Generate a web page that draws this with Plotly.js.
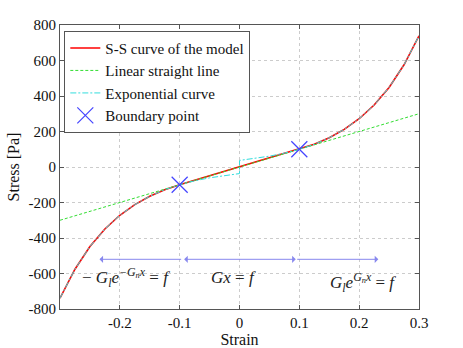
<!DOCTYPE html>
<html>
<head>
<meta charset="utf-8">
<script src="https://cdn.plot.ly/plotly-3.0.1.min.js"></script>
<style>
  html, body { margin: 0; padding: 0; background: #fff; }
  #chart { width: 463px; height: 348px; }
</style>
</head>
<body>
<div id="chart"></div>
<script>
// S-S curve of the model
const modelStrain = [-0.3, -0.275, -0.25, -0.225, -0.2, -0.175, -0.15, -0.125, -0.1,
                     -0.05, 0, 0.05,
                     0.1, 0.125, 0.15, 0.175, 0.2, 0.225, 0.25, 0.275, 0.3];
const modelStress = [-739, -576, -448, -349, -272, -212, -165, -128, -100,
                     -50, 0, 50,
                     100, 128, 165, 212, 272, 349, 448, 576, 739];

// linear straight line
const linearStrain = [-0.3, 0.3];
const linearStress = [-300, 300];

// exponential curve (two branches, jump at zero)
const expStrain = [-0.3, -0.275, -0.25, -0.225, -0.2, -0.175, -0.15, -0.125, -0.1, -0.075, -0.05, -0.025, 0,
                   0, 0.025, 0.05, 0.075, 0.1, 0.125, 0.15, 0.175, 0.2, 0.225, 0.25, 0.275, 0.3];
const expStress = [-739, -576, -448, -349, -272, -212, -165, -128, -100, -78, -61, -47, -37,
                   37, 47, 61, 78, 100, 128, 165, 212, 272, 349, 448, 576, 739];

// boundary points
const boundaryStrain = [-0.1, 0.1];
const boundaryStress = [-100, 100];

// axis ticks
const xTickVals = [-0.2, -0.1, 0, 0.1, 0.2, 0.3];
const xTickText = ['-0.2', '-0.1', '0', '0.1', '0.2', '0.3'];
const yTickVals = [-800, -600, -400, -200, 0, 200, 400, 600, 800];
const yTickText = ['-800', '-600', '-400', '-200', '0', '200', '400', '600', '800'];

// region arrows: [tail, head] in strain, at one stress level
const arrowLevel = -520;
const arrowSpans = [[-0.095, -0.234], [-0.095, 0.094], [0.094, 0.232]];

const serif = '"Liberation Serif", "Times New Roman", serif';

const data = [
    {
        x: modelStrain, y: modelStress,
        type: 'scatter', mode: 'lines',
        name: 'S-S curve of the model',
        line: { color: '#ff0000', width: 1.6 }
    },
    {
        x: linearStrain, y: linearStress,
        type: 'scatter', mode: 'lines',
        name: 'Linear straight line',
        line: { color: '#33dd33', width: 1, dash: '3px,2px' }
    },
    {
        x: expStrain, y: expStress,
        type: 'scatter', mode: 'lines',
        name: 'Exponential curve',
        line: { color: '#33dddd', width: 1, dash: '6px,2px,2px,2px' }
    },
    {
        x: boundaryStrain, y: boundaryStress,
        type: 'scatter', mode: 'markers',
        name: 'Boundary point',
        marker: { symbol: 'x-thin-open', size: 16, color: '#4444ff', line: { color: '#4444ff', width: 1.2 } }
    }
];

const annotations = arrowSpans.map((s, i) => ({
    x: s[1], y: arrowLevel,
    ax: s[0], ay: arrowLevel,
    xref: 'x', yref: 'y', axref: 'x', ayref: 'y',
    text: '',
    showarrow: true,
    arrowhead: 1,
    arrowside: i === 1 ? 'end+start' : 'end',
    arrowsize: 1.2,
    arrowwidth: 1,
    arrowcolor: '#8888ee'
}));

annotations.push(
    {
        x: -0.19, y: -620, xref: 'x', yref: 'y', showarrow: false,
        text: '− <i>G<sub>l</sub>e<sup>−G<sub>n</sub>x</sup></i> = <i>f</i>',
        font: { family: serif, size: 17, color: '#222' }
    },
    {
        x: -0.01, y: -625, xref: 'x', yref: 'y', showarrow: false,
        text: '<i>Gx</i> = <i>f</i>',
        font: { family: serif, size: 17, color: '#222' }
    },
    {
        x: 0.206, y: -650, xref: 'x', yref: 'y', showarrow: false,
        text: '<i>G<sub>l</sub>e<sup>G<sub>n</sub>x</sup></i> = <i>f</i>',
        font: { family: serif, size: 17, color: '#222' }
    }
);

const axisBase = {
    showline: true,
    linecolor: '#555',
    linewidth: 1,
    mirror: 'ticks',
    ticks: 'inside',
    ticklen: 4,
    tickcolor: '#555',
    showgrid: true,
    gridcolor: '#cccccc',
    griddash: 'dot',
    gridwidth: 1,
    zeroline: false,
    tickfont: { family: serif, size: 15, color: '#111' }
};

const layout = {
    width: 463,
    height: 348,
    margin: { l: 60, r: 44, t: 25, b: 39 },
    paper_bgcolor: '#fff',
    plot_bgcolor: '#fff',
    font: { family: serif, color: '#111' },
    showlegend: true,
    legend: {
        x: 0.012, y: 0.98, xanchor: 'left', yanchor: 'top',
        bgcolor: '#fff',
        bordercolor: '#555',
        borderwidth: 1,
        font: { family: serif, size: 15, color: '#111' },
        itemwidth: 30,
        tracegroupgap: 0
    },
    xaxis: Object.assign({}, axisBase, {
        range: [-0.3, 0.3],
        tickvals: xTickVals,
        ticktext: xTickText,
        title: { text: 'Strain', font: { family: serif, size: 16 }, standoff: 2 }
    }),
    yaxis: Object.assign({}, axisBase, {
        range: [-800, 800],
        tickvals: yTickVals,
        ticktext: yTickText,
        title: { text: 'Stress [Pa]', font: { family: serif, size: 16 }, standoff: 4 }
    }),
    annotations: annotations
};

Plotly.newPlot('chart', data, layout, { displayModeBar: false, responsive: false });
</script>
</body>
</html>
